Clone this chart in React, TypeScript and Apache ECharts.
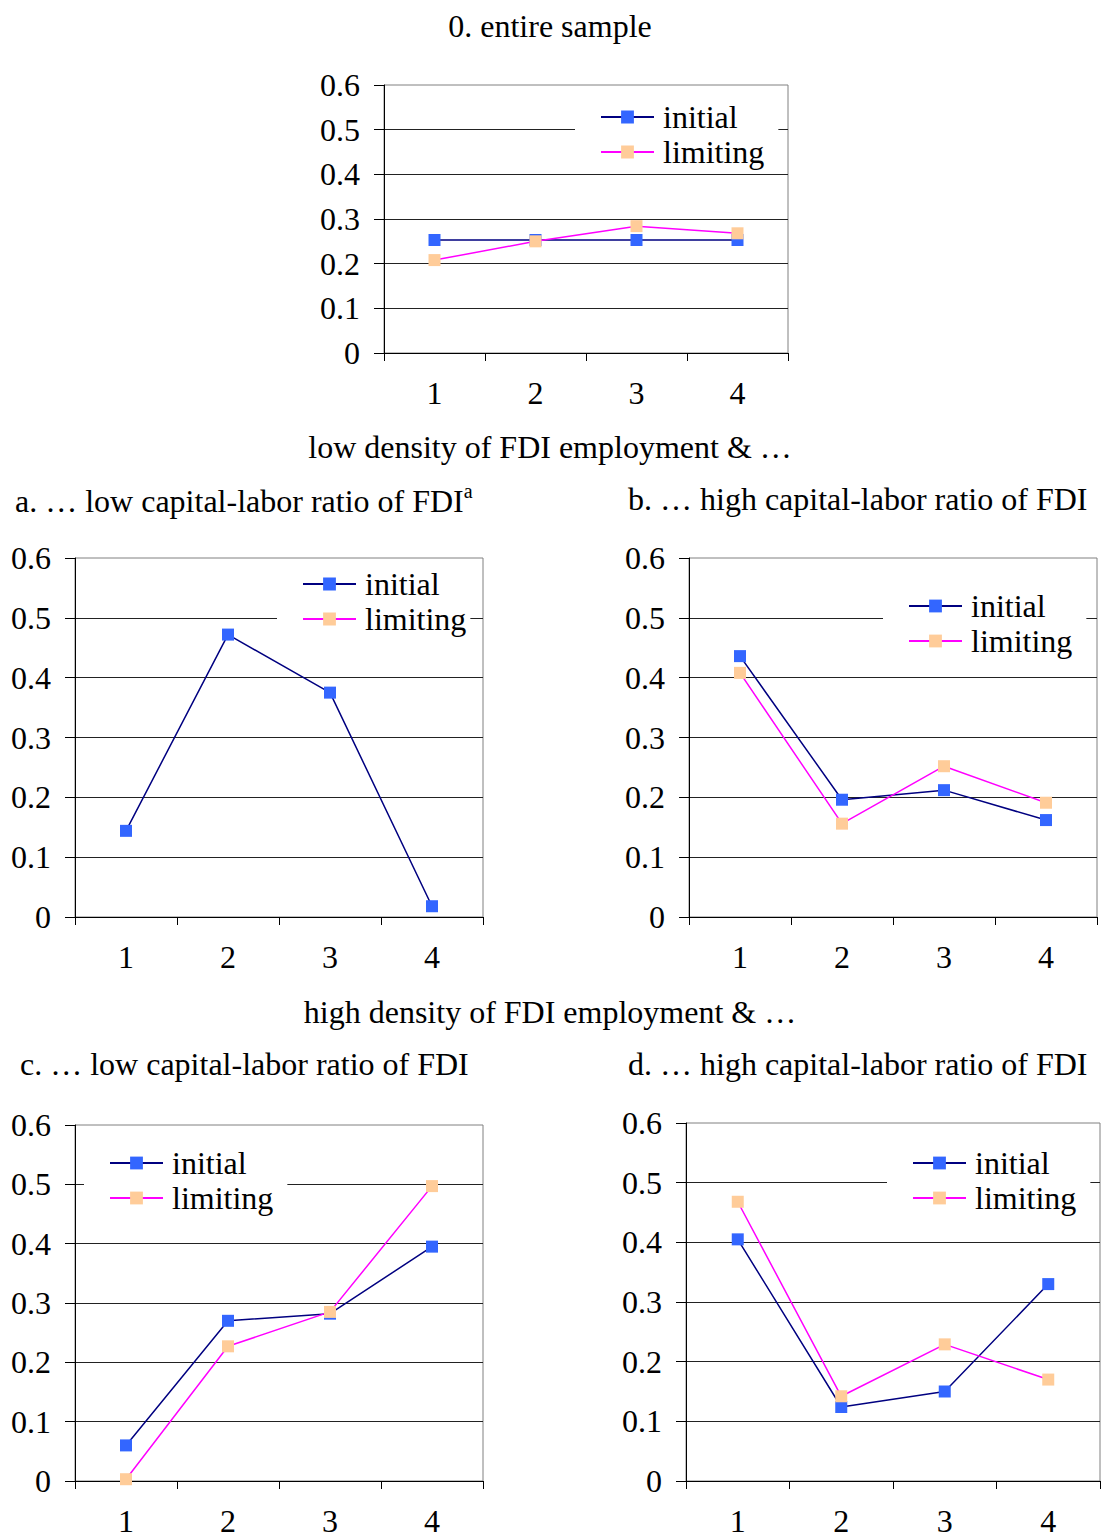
import React, { useEffect, useRef } from "react";
import * as echarts from "echarts";

const categories = ["1", "2", "3", "4"];
const yTicks = [0, 0.1, 0.2, 0.3, 0.4, 0.5, 0.6];

const initial0 = [0.253, 0.253, 0.253, 0.253];
const limiting0 = [0.208, 0.25, 0.284, 0.268];
const initialA = [0.144, 0.472, 0.375, 0.018];
const limitingA = [null, null, null, null];
const initialB = [0.436, 0.196, 0.212, 0.162];
const limitingB = [0.408, 0.156, 0.252, 0.191];
const initialC = [0.06, 0.27, 0.282, 0.395];
const limitingC = [0.003, 0.227, 0.285, 0.497];
const initialD = [0.405, 0.124, 0.15, 0.33];
const limitingD = [0.468, 0.142, 0.229, 0.17];

const FONT = "Liberation Serif";
const FS = 32;

const grids = [
  { left: 384, top: 85, width: 404, height: 268, legendLeft: 575, legendTop: 97, padRight: 14 },
  { left: 75, top: 558, width: 408, height: 359, legendLeft: 277, legendTop: 564, padRight: 4 },
  { left: 689, top: 558, width: 408, height: 359, legendLeft: 883, legendTop: 586, padRight: 14 },
  { left: 75, top: 1125, width: 408, height: 360, legendLeft: 84, legendTop: 1143, padRight: 14 },
  { left: 686, top: 1123, width: 414, height: 364, legendLeft: 887, legendTop: 1143, padRight: 14 },
];

const dataSets = [
  [initial0, limiting0],
  [initialA, limitingA],
  [initialB, limitingB],
  [initialC, limitingC],
  [initialD, limitingD],
];

const titles = [
  { text: "0. entire sample", x: 550, y: 26, align: "center" },
  { text: "low density of FDI employment & …", x: 550, y: 447, align: "center" },
  { text: "b. … high capital-labor ratio of FDI", x: 628, y: 499, align: "left" },
  { text: "high density of FDI employment & …", x: 550, y: 1012, align: "center" },
  { text: "c. … low capital-labor ratio of FDI", x: 20, y: 1064, align: "left" },
  { text: "d. … high capital-labor ratio of FDI", x: 628, y: 1064, align: "left" },
];

export default function App() {
  const ref = useRef<HTMLDivElement>(null);
  useEffect(() => {
    if (!ref.current) return;
    const chart = echarts.init(ref.current, null, { renderer: "svg" });
    const option: any = {
      animation: false,
      backgroundColor: "#fff",
      grid: grids.map((g) => ({
        left: g.left,
        top: g.top,
        width: g.width,
        height: g.height,
        show: true,
        borderColor: "#808080",
        borderWidth: 1,
        backgroundColor: "transparent",
      })),
      xAxis: grids.map((g, i) => ({
        type: "category",
        gridIndex: i,
        data: categories,
        boundaryGap: true,
        axisLine: { lineStyle: { color: "#000", width: 1 } },
        axisTick: { show: true, length: 8, inside: false, lineStyle: { color: "#000" } },
        axisLabel: { fontFamily: FONT, fontSize: FS, color: "#000", margin: 24 },
        splitLine: { show: false },
      })),
      yAxis: grids.map((g, i) => ({
        type: "value",
        gridIndex: i,
        min: 0,
        max: 0.6,
        interval: 0.1,
        axisLine: { show: true, lineStyle: { color: "#000", width: 1 } },
        axisTick: { show: true, length: 10, lineStyle: { color: "#000" } },
        axisLabel: {
          fontFamily: FONT,
          fontSize: FS,
          color: "#000",
          margin: 24,
          formatter: (v: number) => {
            const t = yTicks.find((y) => Math.abs(y - v) < 1e-9);
            return t === undefined ? "" : String(t);
          },
        },
        splitLine: {
          show: true,
          showMinLine: false,
          showMaxLine: false,
          lineStyle: { color: "#222", width: 1 },
        },
      })),
      legend: grids.map((g) => ({
        left: g.legendLeft,
        top: g.legendTop,
        orient: "vertical",
        data: ["initial", "limiting"],
        backgroundColor: "#fff",
        padding: [4, g.padRight, 4, 25],
        itemWidth: 53,
        itemHeight: 16,
        itemGap: 3,
        textStyle: { fontFamily: FONT, fontSize: FS, color: "#000", lineHeight: 31, padding: [0, 0, 0, 4] },
        selectedMode: false,
        z: 1,
      })),
      series: dataSets.flatMap((ds, i) => [
        {
          name: "initial",
          type: "line",
          xAxisIndex: i,
          yAxisIndex: i,
          data: ds[0],
          symbol: "rect",
          symbolSize: 12,
          lineStyle: { color: "#000080", width: 1.5 },
          itemStyle: { color: "#3366FF" },
          z: 2,
        },
        {
          name: "limiting",
          type: "line",
          xAxisIndex: i,
          yAxisIndex: i,
          data: ds[1],
          symbol: "rect",
          symbolSize: 12,
          lineStyle: { color: "#FF00FF", width: 1.5 },
          itemStyle: { color: "#FFCC99" },
          z: 3,
        },
      ]),
      graphic: [
        ...titles.map((t) => ({
          type: "text",
          x: t.x,
          y: t.y,
          style: {
            text: t.text,
            fontFamily: FONT,
            fontSize: FS,
            fill: "#000",
            align: t.align,
            verticalAlign: "middle",
          },
        })),
        {
          type: "text",
          x: 15,
          y: 499,
          style: {
            text: "{n|a. … low capital-labor ratio of FDI}{s|a}",
            fontFamily: FONT,
            fill: "#000",
            align: "left",
            verticalAlign: "middle",
            rich: {
              n: { fontFamily: FONT, fontSize: FS, lineHeight: 36, verticalAlign: "bottom" },
              s: { fontFamily: FONT, fontSize: 20, lineHeight: 36, verticalAlign: "top" },
            },
          },
        },
      ],
    };
    chart.setOption(option);
    return () => chart.dispose();
  }, []);
  return (
    <div
      ref={ref}
      style={{ position: "absolute", left: 0, top: 0, width: 1101, height: 1537 }}
    />
  );
}
